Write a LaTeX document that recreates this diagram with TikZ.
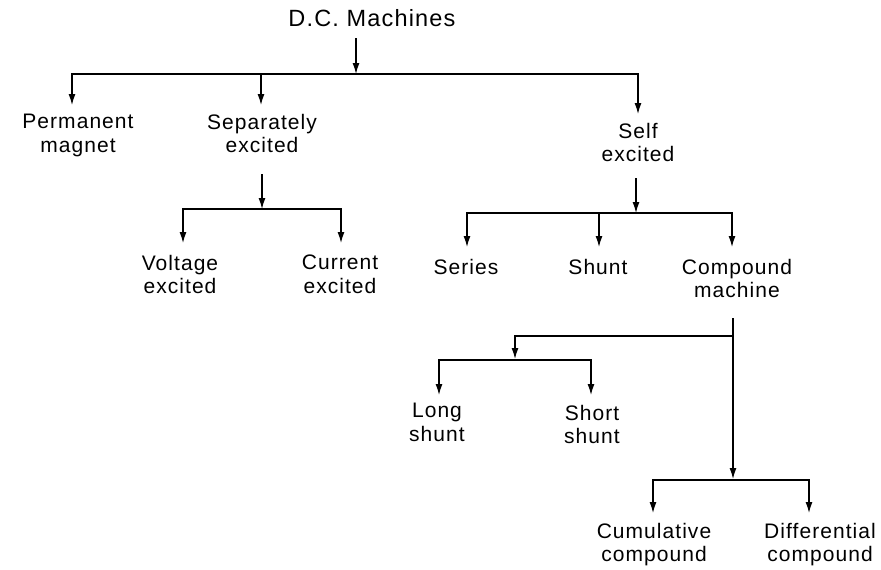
\documentclass[tikz,border=0pt]{standalone}
\usepackage{fontspec}
\setmainfont{Liberation Sans}[LetterSpace=5]
\usetikzlibrary{arrows.meta}
\begin{document}
\begin{tikzpicture}[x=1pt,y=-1pt,
  lbl/.style={font=\fontsize{21}{23.5}\selectfont, align=center, inner xsep=0pt, inner ysep=9pt, anchor=north},
  ln/.style={line width=1.3pt},
  arr/.style={ln,-{Latex[length=11pt,width=7pt]}},
  arr2/.style={ln,{Latex[length=11pt,width=7pt]}-{Latex[length=11pt,width=7pt]}}]
\useasboundingbox (0,0) rectangle (881,570);
% title
\node[font=\fontsize{23.5}{26}\selectfont, anchor=base, inner sep=3pt] (dc) at (372,27) {D.C. Machines};
\coordinate (tS) at (356,38);
\coordinate (tA) at (356,74);
\coordinate (mL) at (72,74);
\coordinate (mS) at (261,74);
\coordinate (mR) at (638,74);
\node[lbl] (perm) at (78,105) {Permanent\\magnet};
\node[lbl] (sep) at (262,105) {Separately\\excited};
\node[lbl] (self) at (638,114) {Self\\excited};
\draw[arr] (tS) -- (tA);
\draw[arr2] (mL |- perm.north) -- (mL) -- (mR) -- (mR |- self.north);
\draw[arr] (mS) -- (mS |- sep.north);
% separately excited
\coordinate (sS) at (262,174);
\coordinate (sJ) at (262,209);
\coordinate (sL) at (183,209);
\coordinate (sR) at (341,209);
\node[lbl, inner ysep=12pt] (volt) at (180,243) {Voltage\\excited};
\node[lbl, inner ysep=12pt] (curr) at (340,243) {Current\\excited};
\draw[arr] (sS) -- (sJ);
\draw[arr2] (sL |- volt.north) -- (sL) -- (sR) -- (sR |- curr.north);
% self excited
\coordinate (fS) at (636,178);
\coordinate (fJ) at (636,213);
\coordinate (fL) at (467,213);
\coordinate (fM) at (599,213);
\coordinate (fR) at (732,213);
\node[lbl, inner ysep=12pt] (series) at (466,247) {Series};
\node[lbl, inner ysep=12pt] (shunt) at (598,247) {Shunt};
\node[lbl, inner ysep=12pt] (comp) at (737,247) {Compound\\machine};
\draw[arr] (fS) -- (fJ);
\draw[arr2] (fL |- series.north) -- (fL) -- (fR) -- (fR |- comp.north);
\draw[arr] (fM) -- (fM |- shunt.north);
% compound machine
\coordinate (cS) at (733,318);
\coordinate (cB) at (733,336);
\coordinate (cE) at (733,479);
\coordinate (lsJ) at (515,336);
\coordinate (lsT) at (515,359);
\coordinate (lL) at (439,360);
\coordinate (lR) at (591,360);
\node[lbl, inner ysep=8pt] (long) at (437,395) {Long\\shunt};
\node[lbl, inner ysep=10pt] (short) at (592,395) {Short\\shunt};
\draw[arr] (cS) -- (cE);
\draw[arr] (cB) -- (lsJ) -- (lsT);
\draw[arr2] (lL |- long.north) -- (lL) -- (lR) -- (lR |- short.north);
% bottom
\coordinate (bL) at (653,480);
\coordinate (bR) at (809,480);
\node[lbl, inner ysep=10pt] (cum) at (654,513) {Cumulative\\compound};
\node[lbl, inner ysep=10pt] (diff) at (820,513) {Differential\\compound};
\draw[arr2] (bL |- cum.north) -- (bL) -- (bR) -- (bR |- diff.north);
\end{tikzpicture}
\end{document}
